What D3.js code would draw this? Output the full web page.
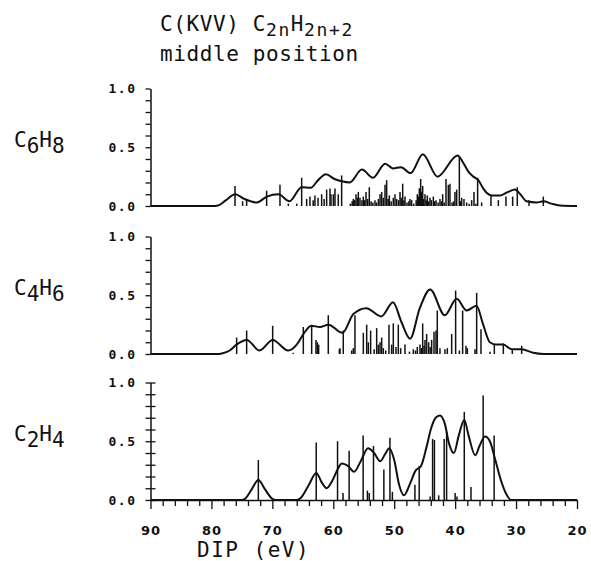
<!DOCTYPE html>
<html>
<head>
<meta charset="utf-8">
<script src="https://cdn.jsdelivr.net/npm/d3@7"></script>
<style>
  body { margin: 0; background: #fff; }
  svg { display: block; }
  text { font-family: "DejaVu Sans Mono", monospace; fill: #111; }
</style>
</head>
<body>
<svg id="chart" width="591" height="561"></svg>
<script>
// stick spectra, [DIP (eV), intensity]
const c6h8Sticks = [
  [76.13,0.17],[74.88,0.04],[74.22,0.06],[70.94,0.13],[68.75,0.18],[67.38,0.02],[66.0,0.02],
  [65.19,0.24],[64.37,0.06],[63.83,0.08],[63.3,0.05],[63.01,0.09],[62.5,0.07],[61.91,0.10],
  [61.5,0.06],[61.09,0.14],[60.54,0.15],[60.38,0.10],[59.99,0.10],[59.72,0.15],[59.18,0.10],
  [58.63,0.26],[57.2,0.02],[56.9,0.04],[56.71,0.06],[56.5,0.05],[56.27,0.10],[56.05,0.07],
  [55.89,0.12],[55.62,0.07],[55.3,0.05],[55.07,0.08],[54.85,0.05],[54.63,0.12],[54.35,0.06],
  [54.09,0.16],[53.8,0.04],[53.5,0.03],[53.16,0.05],[52.9,0.03],[52.6,0.06],[52.33,0.10],
  [52.06,0.12],[51.8,0.07],[51.51,0.18],[51.24,0.22],[51.0,0.06],[50.80,0.09],[50.5,0.04],
  [50.15,0.07],[49.87,0.10],[49.60,0.06],[49.3,0.05],[49.05,0.12],[48.85,0.07],[48.61,0.19],
  [48.4,0.05],[48.23,0.08],[47.9,0.03],[47.6,0.04],[47.41,0.06],[47.14,0.05],[46.8,0.02],
  [46.4,0.05],[46.21,0.10],[46.0,0.08],[45.88,0.15],[45.66,0.23],[45.5,0.12],[45.33,0.17],
  [45.15,0.06],[44.95,0.10],[44.75,0.05],[44.57,0.09],[44.35,0.04],[44.13,0.07],[43.9,0.05],
  [43.58,0.08],[43.35,0.04],[43.14,0.05],[42.8,0.03],[42.49,0.06],[42.25,0.04],[42.05,0.10],
  [41.8,0.03],[41.50,0.23],[41.12,0.18],[40.85,0.19],[40.5,0.03],[40.25,0.04],[40.03,0.12],
  [39.75,0.14],[39.31,0.42],[39.1,0.04],[38.93,0.07],[38.55,0.06],[38.11,0.03],[37.7,0.02],
  [37.29,0.05],[36.91,0.12],[36.6,0.02],[36.31,0.24],[35.65,0.03],[34.12,0.09],[32.91,0.05],
  [31.66,0.08],[30.56,0.08],[29.80,0.16],[27.88,0.05],[25.53,0.08]
];
const c4h6Sticks = [
  [75.86,0.14],[74.22,0.20],[69.95,0.24],[66.56,0.01],[64.92,0.23],[63.55,0.24],[62.84,0.12],
  [62.62,0.10],[62.40,0.08],[60.82,0.33],[59.01,0.04],[58.90,0.05],[58.36,0.20],[56.98,0.03],
  [56.71,0.05],[56.44,0.33],[55.07,0.18],[54.52,0.25],[54.25,0.10],[53.87,0.20],[53.3,0.04],
  [52.88,0.22],[52.61,0.08],[52.33,0.10],[52.06,0.14],[51.79,0.05],[51.4,0.03],[50.86,0.25],
  [50.42,0.08],[50.15,0.26],[49.71,0.06],[49.33,0.25],[48.94,0.05],[48.23,0.08],[47.5,0.02],
  [46.86,0.04],[46.5,0.03],[46.21,0.06],[45.77,0.08],[45.55,0.05],[45.33,0.26],[45.1,0.07],
  [44.95,0.12],[44.68,0.17],[44.35,0.10],[44.1,0.06],[43.86,0.12],[43.47,0.19],[43.14,0.20],
  [42.93,0.37],[42.49,0.05],[41.67,0.04],[41.28,0.05],[40.57,0.17],[39.92,0.54],[39.3,0.03],
  [38.77,0.37],[38.22,0.07],[38.0,0.05],[36.74,0.04],[36.47,0.52],[35.76,0.21],[34.28,0.02],
  [33.57,0.08],[32.09,0.09],[30.62,0.04],[29.08,0.07]
];
const c2h4Sticks = [
  [72.3,0.34],[62.8,0.49],[59.3,0.50],[58.4,0.06],[57.4,0.42],[55.1,0.55],[54.4,0.08],
  [54.1,0.06],[53.4,0.46],[51.7,0.26],[50.7,0.53],[50.3,0.07],[46.6,0.13],[45.9,0.29],
  [44.1,0.03],[43.7,0.52],[43.4,0.51],[42.7,0.04],[41.8,0.52],[41.4,0.58],[40.0,0.06],
  [39.7,0.03],[38.5,0.75],[37.4,0.11],[35.4,0.89],[33.6,0.55]
];

// broadened envelopes, [DIP (eV), intensity]
const c6h8Curve = [
  [90,0],[80,0],[78.9,0.005],[77.6,0.05],[76.1,0.10],[74.6,0.06],[72.6,0.03],[70.9,0.08],
  [69.0,0.10],[67.2,0.04],[65.2,0.16],[63.7,0.155],[62.5,0.22],[61.2,0.27],[59.8,0.23],
  [58.6,0.21],[57.3,0.20],[55.3,0.31],[53.5,0.24],[51.5,0.36],[50.2,0.32],[48.9,0.33],
  [47.3,0.28],[45.3,0.44],[42.9,0.25],[39.6,0.43],[38.7,0.37],[37.8,0.29],[37.0,0.25],
  [36.2,0.22],[35.4,0.15],[34.8,0.11],[34.0,0.09],[32.6,0.09],[31.3,0.12],[30.2,0.14],
  [29.3,0.10],[28.3,0.04],[26.6,0.03],[25.5,0.04],[24.2,0.02],[22.8,0.005],[20,0]
];
const c4h6Curve = [
  [90,0],[79,0],[78.3,0.005],[77,0.03],[75.9,0.08],[74.2,0.12],[72.1,0.03],[69.95,0.12],
  [67.4,0.03],[66.0,0.08],[64.9,0.17],[63.6,0.24],[62.2,0.23],[60.8,0.25],[58.5,0.18],
  [56.7,0.34],[54.6,0.39],[52.1,0.32],[50.2,0.44],[48.8,0.27],[47.4,0.13],[45.8,0.39],
  [44.1,0.55],[41.7,0.33],[39.75,0.47],[38.1,0.37],[36.5,0.41],[35.4,0.25],[34.3,0.10],
  [33.2,0.08],[32.1,0.08],[30.7,0.04],[29.1,0.04],[27.2,0.01],[25.5,0],[20,0]
];
const c2h4Curve = [
  [90,0],[75,0],[74.5,0.01],[73.4,0.09],[72.3,0.17],[71.2,0.09],[70,0.01],[69.5,0],[66,0],
  [65.3,0.02],[64,0.13],[62.8,0.23],[61.9,0.15],[61.1,0.10],[60.2,0.16],[59.3,0.26],
  [58.6,0.31],[57.6,0.29],[56.6,0.24],[55.5,0.33],[54.3,0.44],[53.3,0.40],[52.3,0.33],
  [51.5,0.39],[50.8,0.44],[50.0,0.34],[49.2,0.13],[48.4,0.04],[47.4,0.14],[46.5,0.25],
  [45.6,0.29],[44.7,0.45],[44.0,0.60],[43.2,0.70],[42.5,0.72],[41.7,0.65],[41.0,0.48],
  [40.2,0.40],[39.4,0.55],[38.5,0.68],[37.8,0.55],[36.7,0.38],[36.0,0.46],[35.1,0.54],
  [34.3,0.50],[33.4,0.34],[32.5,0.17],[31.5,0.04],[30.8,0],[20,0]
];

const xLabels = [90, 80, 70, 60, 50, 40, 30, 20];
const yLabels = [0, 0.5, 1.0];

const panels = [
  {base: "C", n1: "6", mid: "H", n2: "8", sticks: c6h8Sticks, curve: c6h8Curve, y0: 206},
  {base: "C", n1: "4", mid: "H", n2: "6", sticks: c4h6Sticks, curve: c4h6Curve, y0: 354},
  {base: "C", n1: "2", mid: "H", n2: "4", sticks: c2h4Sticks, curve: c2h4Curve, y0: 500}
];
const panelH = 117.5;

const svg = d3.select("#chart");
const ink = "#111";

const x = d3.scaleLinear().domain([90, 20]).range([150.5, 577]);

// title
const t1 = svg.append("text").attr("x", 160).attr("y", 31)
  .style("font-size", "21px").style("letter-spacing", "0.6px");
t1.append("tspan").text("C(KVV) C");
t1.append("tspan").attr("dy", 5).style("font-size", "18px").style("letter-spacing", "1.6px").text("2n");
t1.append("tspan").attr("dy", -5).text("H");
t1.append("tspan").attr("dy", 5).style("font-size", "18px").style("letter-spacing", "1.6px").text("2n+2");

svg.append("text").attr("x", 160).attr("y", 61)
  .style("font-size", "21px").style("letter-spacing", "0.6px")
  .text("middle position");

panels.forEach((p, i) => {
  const last = i === panels.length - 1;
  const y = d3.scaleLinear().domain([0, 1]).range([p.y0, p.y0 - panelH]);
  const g = svg.append("g");

  // y axis with minor ticks every 0.1
  const yAxis = d3.axisLeft(y)
    .tickValues(d3.range(0, 11).map(k => k / 10))
    .tickSizeInner(5).tickSizeOuter(0)
    .tickFormat(d => yLabels.some(v => Math.abs(v - d) < 1e-6) ? d3.format(".1f")(d) : "");
  const ya = g.append("g").attr("transform", `translate(${x(90)},0)`).call(yAxis);
  ya.select(".domain").attr("stroke", ink).attr("stroke-width", 1.5);
  ya.selectAll(".tick line").attr("stroke", ink).attr("stroke-width", 1.3);
  if (last) ya.selectAll(".tick line").attr("x2", -5).attr("x1", 5);
  ya.selectAll(".tick text")
    .attr("x", -14)
    .style("font-size", "13px").style("font-weight", "bold")
    .style("letter-spacing", "1.5px").style("fill", ink);

  // sticks
  g.append("g").selectAll("line").data(p.sticks).join("line")
    .attr("x1", d => x(d[0])).attr("x2", d => x(d[0]))
    .attr("y1", y(0)).attr("y2", d => y(d[1]))
    .attr("stroke", ink).attr("stroke-width", 1.5);

  // envelope
  const line = d3.line().x(d => x(d[0])).y(d => y(d[1])).curve(d3.curveMonotoneX);
  g.append("path").datum(p.curve)
    .attr("d", line).attr("fill", "none")
    .attr("stroke", ink).attr("stroke-width", 2);

  // molecule label
  const lab = svg.append("text").attr("x", 14).attr("y", p.y0 - 59)
    .style("font-size", "21px").style("letter-spacing", "0px");
  lab.append("tspan").text(p.base);
  lab.append("tspan").attr("dy", 6).text(p.n1);
  lab.append("tspan").attr("dy", -6).text(p.mid);
  lab.append("tspan").attr("dy", 6).text(p.n2);

  if (last) {
    const xAxis = d3.axisBottom(x)
      .tickValues(d3.range(90, 19, -2))
      .tickSizeInner(6).tickSizeOuter(0)
      .tickFormat(d => xLabels.includes(d) ? d : "");
    const xa = g.append("g").attr("transform", `translate(0,${y(0)})`).call(xAxis);
    xa.select(".domain").attr("stroke", ink).attr("stroke-width", 1.5);
    xa.selectAll(".tick line").attr("stroke", ink).attr("stroke-width", 1.3)
      .filter(d => xLabels.includes(d)).attr("y2", 9);
    xa.selectAll(".tick text")
      .attr("y", 26)
      .style("font-family", "DejaVu Sans, sans-serif")
      .style("font-size", "13px").style("font-weight", "bold")
      .style("letter-spacing", "1px").style("fill", ink);
  }
});

svg.append("text").attr("x", 197).attr("y", 557)
  .style("font-size", "21px").style("letter-spacing", "1.5px")
  .text("DIP (eV)");
</script>
</body>
</html>
